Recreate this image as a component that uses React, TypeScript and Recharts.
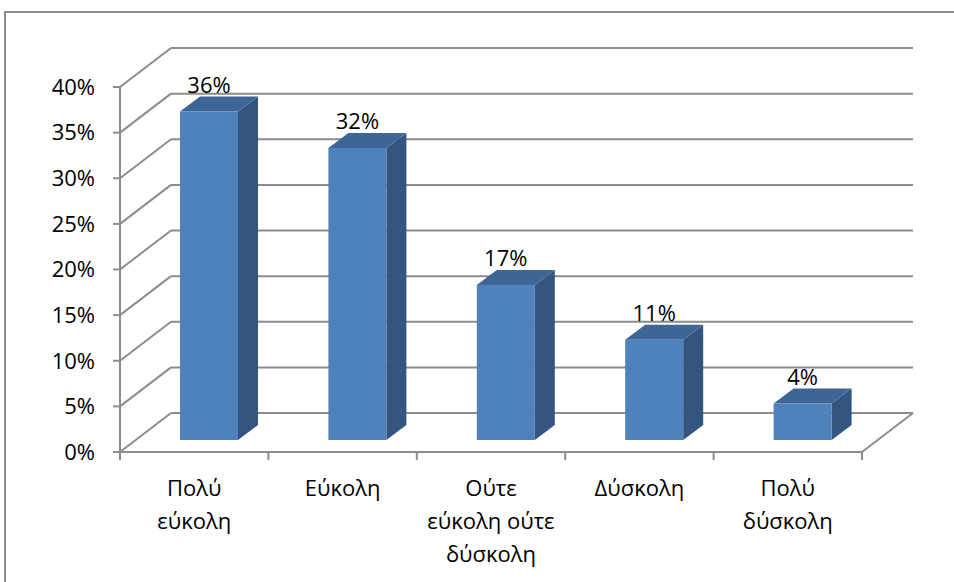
import React from 'react';
import { ComposedChart, Bar, XAxis, YAxis, CartesianGrid, LabelList } from 'recharts';

const CATEGORIES = ['Πολύ εύκολη', 'Εύκολη', 'Ούτε εύκολη ούτε δύσκολη', 'Δύσκολη', 'Πολύ δύσκολη'];
const CATEGORY_LINES = [['Πολύ', 'εύκολη'], ['Εύκολη'], ['Ούτε', 'εύκολη ούτε', 'δύσκολη'], ['Δύσκολη'], ['Πολύ', 'δύσκολη']];
const SHARES = [36, 32, 17, 11, 4];
const Y_TICKS = [0, 5, 10, 15, 20, 25, 30, 35, 40];

const data = CATEGORIES.map((name, i) => ({ name, share: SHARES[i], lines: CATEGORY_LINES[i] }));

const WIDTH = 954;
const HEIGHT = 582;
const MARGIN = { top: 87, right: 92, bottom: 70, left: 0 };
const X_AXIS_HEIGHT = 60;
const PLOT_BOTTOM = HEIGHT - MARGIN.bottom - X_AXIS_HEIGHT;

// 3d look: back wall offset, bar front offset and bar depth
const WALL_DX = 51;
const WALL_DY = -39;
const FRONT_DX = 15;
const FRONT_DY = -12;
const BOX_DX = 20;
const BOX_DY = -15;

const GRID = '#8c8c8c';
const FONT = '"Open Sans", sans-serif';
const FONT_SIZE = 22;

const Box3D = (props: any) => {
  const { x, y, width, height } = props;
  const fx = x + FRONT_DX;
  const fy = y + FRONT_DY;
  const side = `${fx + width},${fy} ${fx + width + BOX_DX},${fy + BOX_DY} ${fx + width + BOX_DX},${fy + height + BOX_DY} ${fx + width},${fy + height}`;
  const top = `${fx},${fy} ${fx + BOX_DX},${fy + BOX_DY} ${fx + width + BOX_DX},${fy + BOX_DY} ${fx + width},${fy}`;
  return (
    <g>
      <polygon points={side} fill="#33557f" />
      <polygon points={top} fill="#3d6596" />
      <rect x={fx} y={fy} width={width} height={height} fill="#4f81bd" />
    </g>
  );
};

const wallLine = (p: any) => {
  const { x1, x2, y1 } = p;
  const isFloor = Math.abs(y1 - PLOT_BOTTOM) < 1;
  return (
    <g key={`wall-${y1}`} stroke={GRID} strokeWidth={2} fill="none">
      <line x1={x1} y1={y1} x2={x1 + WALL_DX} y2={y1 + WALL_DY} />
      <line x1={x1 + WALL_DX} y1={y1 + WALL_DY} x2={x2 + WALL_DX} y2={y1 + WALL_DY} />
      {isFloor && <line x1={x2} y1={y1} x2={x2 + WALL_DX} y2={y1 + WALL_DY} />}
    </g>
  );
};

const CategoryTick = (props: any) => {
  const { x, y, payload, index } = props;
  const half = payload.offset ?? (WIDTH - MARGIN.right - 120) / CATEGORIES.length / 2;
  const lines = CATEGORY_LINES[index] || [payload.value];
  return (
    <g>
      <line x1={x - half} y1={PLOT_BOTTOM} x2={x - half} y2={PLOT_BOTTOM + 8} stroke={GRID} strokeWidth={2} />
      {index === CATEGORIES.length - 1 && (
        <line x1={x + half} y1={PLOT_BOTTOM} x2={x + half} y2={PLOT_BOTTOM + 8} stroke={GRID} strokeWidth={2} />
      )}
      <text x={x} y={y + 36} textAnchor="middle" fontFamily={FONT} fontSize={FONT_SIZE} fill="#000">
        {lines.map((line: string, i: number) => (
          <tspan key={line} x={x} dy={i === 0 ? 0 : 33}>
            {line}
          </tspan>
        ))}
      </text>
    </g>
  );
};

const ValueLabel = (props: any) => {
  const { x, y, width, value } = props;
  return (
    <text x={x + FRONT_DX + width / 2} y={y + FRONT_DY - 19} textAnchor="middle" fontFamily={FONT} fontSize={FONT_SIZE} fill="#000">
      {value}%
    </text>
  );
};

export default function App() {
  return (
    <div style={{ position: 'absolute', left: 0, top: 0, width: WIDTH, height: HEIGHT, overflow: 'hidden', background: '#fff' }}>
      <div
        style={{
          position: 'absolute',
          left: 4,
          top: 11,
          width: 1200,
          height: 1000,
          border: `2px solid ${GRID}`,
        }}
      />
      <div style={{ position: 'absolute', left: 0, top: 0 }}>
        <ComposedChart width={WIDTH} height={HEIGHT} data={data} margin={MARGIN}>
          <CartesianGrid vertical={false} horizontal={wallLine} />
          <XAxis
            dataKey="name"
            height={X_AXIS_HEIGHT}
            interval={0}
            axisLine={{ stroke: GRID, strokeWidth: 2 }}
            tickLine={false}
            tick={<CategoryTick />}
          />
          <YAxis
            width={120}
            domain={[0, 40]}
            ticks={Y_TICKS}
            interval={0}
            tickFormatter={(v) => `${v}%`}
            axisLine={{ stroke: GRID, strokeWidth: 2 }}
            tickLine={{ stroke: GRID, strokeWidth: 2 }}
            tickSize={7}
            tickMargin={18}
            tick={{ fill: '#000', fontSize: FONT_SIZE, fontFamily: FONT }}
          />
          <Bar dataKey="share" barSize={58} shape={<Box3D />} isAnimationActive={false}>
            <LabelList dataKey="share" content={<ValueLabel />} />
          </Bar>
        </ComposedChart>
      </div>
    </div>
  );
}
